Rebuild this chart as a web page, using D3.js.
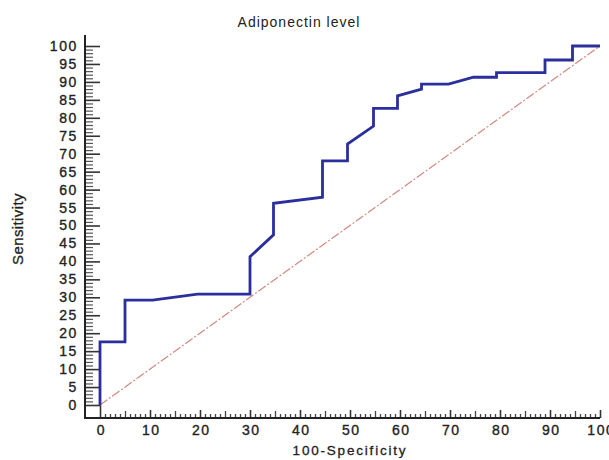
<!DOCTYPE html>
<html>
<head>
<meta charset="utf-8">
<script src="https://cdn.jsdelivr.net/npm/d3@7"></script>
<style>
  body { margin: 0; background: #fff; }
  svg { display: block; }
  .tick text { font-family: "Liberation Sans", Arial, sans-serif; font-size: 14px; fill: #222;
    letter-spacing: 1.6px; stroke: #222; stroke-width: 0.35px; }
</style>
</head>
<body>
<div id="chart"></div>
<script>
// ROC curve (100-Specificity vs Sensitivity)
const fpr = [0, 0, 5, 5, 10.5, 19.5, 30, 30, 34.7, 34.7, 44.5, 44.5, 49.5, 49.5, 54.7, 54.7,
  59.5, 59.5, 64.3, 64.3, 69.7, 74.7, 79.3, 79.3, 89, 89, 94.5, 94.5, 100];
const tpr = [0, 17.6, 17.6, 29.2, 29.2, 30.9, 30.9, 41.3, 47.4, 56.2, 57.9, 68, 68, 72.7, 77.7, 82.6,
  82.6, 86.1, 88, 89.4, 89.4, 91.3, 91.3, 92.6, 92.6, 96.1, 96.1, 100, 100];
const refLine = [0, 100];
const yMajor = d3.range(0, 101, 5);
const xMajor = d3.range(0, 101, 10);

const width = 609, height = 460;

const svg = d3.select("#chart").append("svg")
    .attr("width", width)
    .attr("height", height);

const x = d3.scaleLinear().domain([0, 100]).range([100, 600]);
const y = d3.scaleLinear().domain([0, 100]).range([405, 46]);

const axisX = 85, axisY = 418;

// y axis: major ticks with labels, minor ticks every unit
svg.append("g")
    .attr("transform", `translate(${axisX},0)`)
    .call(d3.axisLeft(y).tickValues(yMajor).tickSize(-15).tickPadding(7).tickFormat(d3.format("d")))
    .call(g => g.select(".domain").remove())
    .call(g => g.selectAll("line").attr("stroke", "#333").attr("stroke-width", 1.6));

svg.append("g")
    .attr("transform", `translate(${axisX},0)`)
    .call(d3.axisLeft(y).tickValues(d3.range(0, 101).filter(d => d % 5)).tickSize(-8).tickFormat(""))
    .call(g => g.select(".domain").remove())
    .call(g => g.selectAll("line").attr("stroke", "#555").attr("stroke-width", 1.2));

// x axis: ticks point up from the baseline
svg.append("g")
    .attr("transform", `translate(0,${axisY})`)
    .call(d3.axisBottom(x).tickValues(xMajor).tickSize(-8).tickPadding(7).tickFormat(d3.format("d")))
    .call(g => g.select(".domain").remove())
    .call(g => g.selectAll("line").attr("stroke", "#333").attr("stroke-width", 1.6)
      .attr("y2", d => d === 0 ? -(axisY - y(0)) : -8))
    .call(g => g.selectAll("text").attr("dx", "0.06em"));

svg.append("g")
    .attr("transform", `translate(0,${axisY})`)
    .call(d3.axisBottom(x).tickValues(d3.range(0, 101).filter(d => d % 10)).tickSize(-4).tickFormat(""))
    .call(g => g.select(".domain").remove())
    .call(g => g.selectAll("line").attr("stroke", "#444").attr("stroke-width", 1.3)
      .attr("y2", d => d % 5 === 0 ? -7 : -4));

// axis lines
svg.append("line")
    .attr("x1", axisX).attr("x2", axisX).attr("y1", 35).attr("y2", axisY + 1)
    .attr("stroke", "#222").attr("stroke-width", 2);
svg.append("line")
    .attr("x1", axisX - 1).attr("x2", x(100)).attr("y1", axisY).attr("y2", axisY)
    .attr("stroke", "#222").attr("stroke-width", 2);

// reference diagonal
svg.append("line")
    .attr("x1", x(refLine[0])).attr("y1", y(refLine[0]))
    .attr("x2", x(refLine[1])).attr("y2", y(refLine[1]))
    .attr("stroke", "#cf8a80")
    .attr("stroke-width", 1.2)
    .attr("stroke-dasharray", "9,2,2,2");

// ROC curve
const line = d3.line().x(d => x(d[0])).y(d => y(d[1]));
svg.append("path")
    .datum(d3.zip(fpr, tpr))
    .attr("d", line)
    .attr("fill", "none")
    .attr("stroke", "#2b2f9c")
    .attr("stroke-width", 2.8)
    .attr("stroke-linejoin", "miter");

// titles
svg.append("text")
    .attr("x", 299).attr("y", 27)
    .attr("text-anchor", "middle")
    .attr("font-family", "Liberation Sans, Arial, sans-serif")
    .attr("font-size", 14)
    .attr("letter-spacing", 1)
    .attr("fill", "#222")
    .text("Adiponectin level");

svg.append("text")
    .attr("x", 350).attr("y", 455)
    .attr("text-anchor", "middle")
    .attr("font-family", "Liberation Sans, Arial, sans-serif")
    .attr("font-size", 13.5)
    .attr("letter-spacing", 1.8)
    .attr("fill", "#222")
    .attr("stroke", "#222")
    .attr("stroke-width", 0.3)
    .text("100-Specificity");

svg.append("text")
    .attr("transform", "translate(23,229) rotate(-90)")
    .attr("text-anchor", "middle")
    .attr("font-family", "Liberation Sans Narrow, Arial Narrow, sans-serif")
    .attr("font-size", 15)
    .attr("letter-spacing", 0.4)
    .attr("fill", "#222")
    .attr("stroke", "#222")
    .attr("stroke-width", 0.3)
    .text("Sensitivity");
</script>
</body>
</html>
